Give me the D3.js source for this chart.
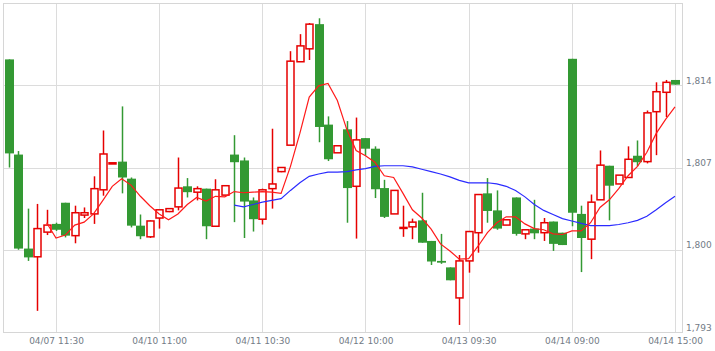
<!DOCTYPE html>
<html>
<head>
<meta charset="utf-8">
<script src="https://cdn.jsdelivr.net/npm/d3@7"></script>
<style>
  body { margin: 0; background: #fff; }
  .axis text { font-family: "DejaVu Sans", Verdana, sans-serif; font-size: 9px; fill: #737b86; }
</style>
</head>
<body>
<div id="chart"></div>
<script>
// 30 minute bars, 12 per session day
const days = ["04/07", "04/10", "04/11", "04/12", "04/13", "04/14"];
const sessionTimes = ["09:00", "09:30", "10:00", "10:30", "11:00", "11:30", "12:30", "13:00", "13:30", "14:00", "14:30", "15:00"];
const categories = days.flatMap(d => sessionTimes.map(t => d + " " + t));

const xTickLabels = ["04/07 11:30", "04/10 11:00", "04/11 10:30", "04/12 10:00", "04/13 09:30", "04/14 09:00", "04/14 15:00"];
const yTickValues = [1793, 1800, 1807, 1814];

const open = [
  1816.2, 1808.1, 1800.1, 1799.4, 1801.5, 1802.2, 1804.0, 1801.2, 1802.95, 1803.05, 1805.1, 1807.3,
  1807.5, 1806.05, 1802.05, 1801.1, 1802.7, 1803.25, 1803.65, 1805.4, 1804.9, 1805.2, 1802.0, 1804.65,
  1808.1, 1807.6, 1804.2, 1802.6, 1805.2, 1806.65, 1808.9, 1816.0, 1817.1, 1819.2, 1810.65, 1808.25,
  1810.25, 1805.4, 1809.5, 1808.6, 1805.25, 1803.05, 1801.85, 1801.95, 1802.5, 1800.75, 1799.05, 1798.5,
  1795.9, 1799.05, 1801.45, 1804.8, 1803.35, 1802.1, 1804.45, 1801.35, 1801.8, 1801.45, 1802.4, 1801.45,
  1816.25, 1803.05, 1800.9, 1804.25, 1807.15, 1805.6, 1806.15, 1808.0, 1807.5, 1811.75, 1813.4, 1814.45
];
const high = [
  1816.2, 1808.4, 1803.5, 1803.9, 1803.4, 1802.3, 1804.0, 1803.75, 1803.6, 1806.25, 1810.15, 1807.4,
  1812.2, 1806.15, 1803.0, 1802.5, 1803.4, 1803.5, 1807.85, 1806.1, 1805.4, 1805.2, 1806.0, 1805.45,
  1809.75, 1807.85, 1804.45, 1805.2, 1810.3, 1807.0, 1816.9, 1818.35, 1819.3, 1819.7, 1811.35, 1808.85,
  1810.95, 1811.25, 1809.5, 1808.8, 1805.95, 1805.05, 1803.75, 1802.65, 1804.85, 1800.75, 1801.35, 1798.5,
  1799.55, 1801.6, 1804.7, 1806.1, 1805.05, 1802.6, 1804.45, 1801.7, 1804.25, 1802.7, 1802.4, 1801.45,
  1816.25, 1803.75, 1804.7, 1808.45, 1807.15, 1806.35, 1808.8, 1809.3, 1811.85, 1814.25, 1814.45, 1814.45
];
const low = [
  1807.0, 1800.0, 1799.05, 1794.8, 1801.25, 1801.6, 1801.05, 1800.55, 1802.7, 1802.2, 1804.6, 1807.3,
  1804.8, 1801.9, 1800.9, 1801.0, 1801.8, 1803.2, 1803.35, 1804.45, 1804.2, 1800.9, 1802.0, 1804.65,
  1802.35, 1801.0, 1801.55, 1802.15, 1803.5, 1806.6, 1808.9, 1816.0, 1816.15, 1809.15, 1807.55, 1808.25,
  1802.3, 1800.95, 1808.0, 1804.4, 1802.7, 1803.05, 1801.1, 1800.9, 1800.6, 1798.7, 1798.8, 1797.4,
  1793.6, 1798.05, 1799.75, 1802.3, 1801.7, 1802.1, 1801.2, 1800.9, 1800.9, 1800.75, 1799.9, 1800.4,
  1802.0, 1798.1, 1799.2, 1804.25, 1802.5, 1805.6, 1806.15, 1807.1, 1807.35, 1808.05, 1811.3, 1814.05
];
const close = [
  1808.2, 1800.1, 1799.35, 1801.8, 1802.1, 1801.7, 1801.2, 1803.15, 1803.15, 1805.2, 1808.15, 1807.4,
  1806.15, 1802.05, 1801.15, 1802.45, 1803.4, 1803.5, 1805.25, 1804.9, 1805.2, 1802.0, 1805.1, 1805.45,
  1807.45, 1804.1, 1802.6, 1805.1, 1805.6, 1807.0, 1816.05, 1817.35, 1819.2, 1810.45, 1807.7, 1808.85,
  1805.25, 1809.35, 1808.6, 1805.15, 1802.8, 1805.05, 1801.9, 1802.35, 1800.6, 1799.0, 1798.9, 1797.4,
  1799.05, 1801.55, 1804.7, 1803.3, 1801.8, 1802.55, 1801.35, 1801.7, 1801.4, 1802.3, 1800.5, 1800.4,
  1803.15, 1801.0, 1804.05, 1807.2, 1805.45, 1806.35, 1807.7, 1807.45, 1811.65, 1813.45, 1814.25, 1814.05
];

// short moving average (red), starts at bar 4
const maShortStart = 4;
const maShort = [
  1802.3, 1801.0, 1801.25, 1802.1, 1802.35, 1803.05, 1804.2, 1805.4, 1806.05, 1805.5, 1804.55, 1803.75,
  1803.05, 1802.55, 1803.05, 1803.85, 1804.45, 1804.15, 1804.55, 1804.5, 1804.95, 1804.85, 1804.9, 1804.95,
  1804.9, 1804.8, 1807.1, 1809.9, 1813.0, 1813.95, 1814.15, 1812.7, 1810.25, 1808.45, 1808.0, 1807.45,
  1806.3, 1806.15, 1804.8, 1803.4, 1802.7, 1801.75, 1800.5, 1799.9, 1799.2, 1799.25, 1800.3, 1801.45,
  1802.3, 1802.8, 1802.8, 1802.2, 1801.8, 1801.7, 1801.35, 1801.3, 1801.6, 1801.6, 1802.3, 1803.6,
  1804.25, 1805.2, 1806.3, 1807.1, 1808.3, 1809.9, 1811.1, 1812.15
];

// long moving average (blue), starts at bar 24
const maLongStart = 24;
const maLong = [
  1803.8, 1803.65, 1803.85, 1804.05, 1804.2, 1804.35, 1805.05, 1805.7, 1806.25, 1806.45, 1806.6, 1806.6,
  1806.65, 1806.8, 1806.9, 1807.1, 1807.15, 1807.15, 1807.15, 1807.05, 1806.85, 1806.65, 1806.45, 1806.2,
  1805.9, 1805.7, 1805.7, 1805.7, 1805.6, 1805.4, 1805.05, 1804.5, 1803.85, 1803.35, 1803.0, 1802.65,
  1802.45, 1802.25, 1802.05, 1802.05, 1802.05, 1802.15, 1802.3, 1802.5, 1802.85, 1803.4, 1804.0, 1804.55
];

const width = 715, height = 351;
const plot = { left: 3, right: 682, top: 3, bottom: 332 };

const svg = d3.select("#chart").append("svg")
    .attr("width", width)
    .attr("height", height);

const x = d3.scalePoint()
    .domain(categories)
    .range([9.1, 675]);

const y = d3.scaleLinear()
    .domain([1793, 1821])
    .range([plot.bottom, plot.top]);

// grid
svg.append("g").selectAll("line.h")
    .data(yTickValues)
    .enter().append("line")
    .attr("x1", plot.left).attr("x2", plot.right)
    .attr("y1", d => Math.round(y(d)) + 0.5).attr("y2", d => Math.round(y(d)) + 0.5)
    .attr("stroke", "#dcdcdc");

svg.append("g").selectAll("line.v")
    .data(xTickLabels)
    .enter().append("line")
    .attr("x1", d => Math.round(x(d)) + 0.5).attr("x2", d => Math.round(x(d)) + 0.5)
    .attr("y1", plot.top).attr("y2", plot.bottom)
    .attr("stroke", "#dcdcdc");

svg.append("rect")
    .attr("x", plot.left + 0.5).attr("y", plot.top + 0.5)
    .attr("width", plot.right - plot.left).attr("height", plot.bottom - plot.top)
    .attr("fill", "none")
    .attr("stroke", "#d6d6d6");

// candles
const bars = categories.map((c, i) => ({ c, o: open[i], h: high[i], l: low[i], cl: close[i] }));
const upColor = "#e60000", downColor = "#339933";

const candle = svg.append("g").selectAll("g")
    .data(bars)
    .enter().append("g");

candle.append("line")
    .attr("x1", d => Math.round(x(d.c)) + 0.5).attr("x2", d => Math.round(x(d.c)) + 0.5)
    .attr("y1", d => y(d.h)).attr("y2", d => y(d.l))
    .attr("stroke", d => d.cl >= d.o ? upColor : downColor)
    .attr("stroke-width", 1.5);

candle.filter(d => d.cl < d.o).append("rect")
    .attr("x", d => Math.round(x(d.c)) - 4)
    .attr("y", d => y(d.o))
    .attr("width", 9)
    .attr("height", d => Math.max(1, y(d.cl) - y(d.o)))
    .attr("fill", downColor);

candle.filter(d => d.cl >= d.o).append("rect")
    .attr("x", d => Math.round(x(d.c)) - 3)
    .attr("y", d => y(d.cl))
    .attr("width", 7)
    .attr("height", d => Math.max(1, y(d.o) - y(d.cl)))
    .attr("fill", "#fff")
    .attr("stroke", upColor)
    .attr("stroke-width", 1.5);

// moving averages
const line = d3.line()
    .x(d => x(d[0]))
    .y(d => y(d[1]));

svg.append("path")
    .datum(maLong.map((v, i) => [categories[maLongStart + i], v]))
    .attr("d", line)
    .attr("fill", "none")
    .attr("stroke", "#2b2bff")
    .attr("stroke-width", 1.2);

svg.append("path")
    .datum(maShort.map((v, i) => [categories[maShortStart + i], v]))
    .attr("d", line)
    .attr("fill", "none")
    .attr("stroke", "#ff1a1a")
    .attr("stroke-width", 1.2);

// axes
svg.append("g")
    .attr("class", "axis")
    .attr("transform", `translate(0,${plot.bottom})`)
    .call(d3.axisBottom(x).tickValues(xTickLabels).tickSize(0).tickPadding(6))
    .call(g => g.select(".domain").remove());

svg.append("g")
    .attr("class", "axis")
    .attr("transform", `translate(${plot.right},0)`)
    .call(d3.axisRight(y).tickValues(yTickValues).tickFormat(d3.format(",")).tickSize(0).tickPadding(4))
    .call(g => g.select(".domain").remove())
    .call(g => g.selectAll("text").attr("dy", "-0.2em"));
</script>
</body>
</html>
